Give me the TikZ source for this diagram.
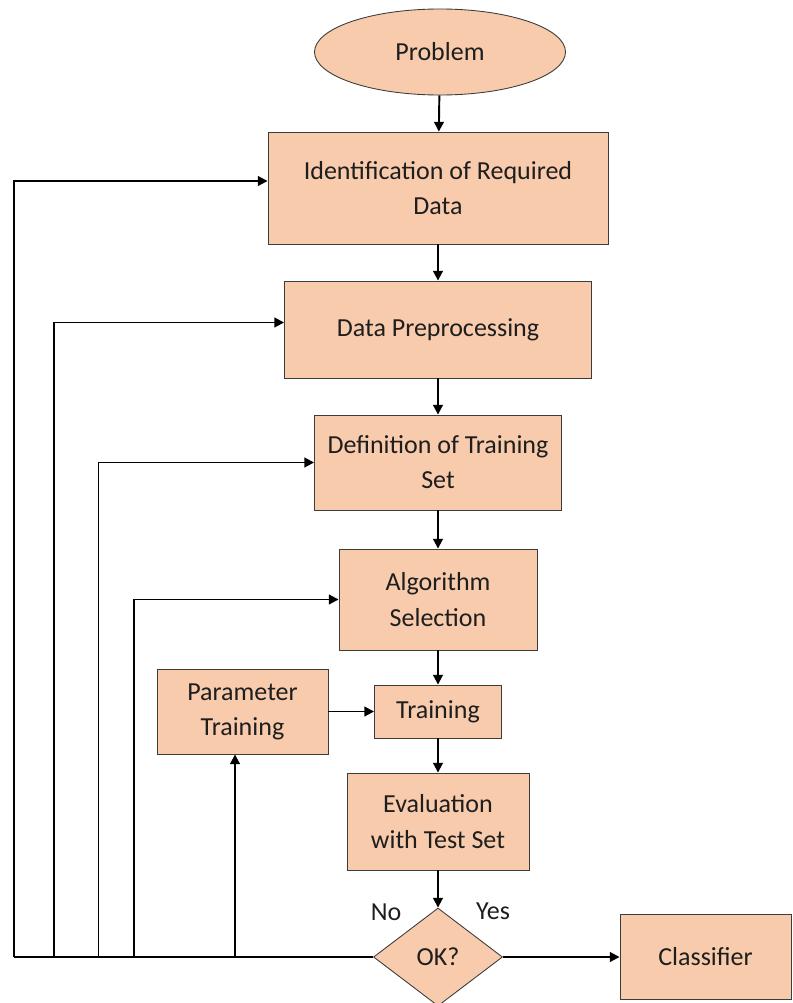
\documentclass[tikz,border=0pt]{standalone}
\usepackage{fontspec}
\setmainfont{Carlito}
\usepackage{tikz}
\usetikzlibrary{shapes.geometric,arrows.meta}
\definecolor{peach}{RGB}{248,203,173}
\definecolor{edgeg}{RGB}{60,60,60}
\definecolor{inkt}{RGB}{30,30,30}
\tikzset{
  pbox/.style={draw=edgeg,fill=peach,line width=0.5pt,align=center,inner sep=0pt,text=inkt},
  term/.style={ellipse,draw=edgeg,fill=peach,line width=0.5pt,inner sep=0pt,text=inkt},
  dec/.style={diamond,draw=edgeg,fill=peach,line width=0.5pt,inner sep=0pt,text=inkt},
  lbl/.style={text=inkt},
  ea/.style={-{Triangle[length=5.5pt,width=5.5pt]},line width=1.1pt,draw=black},
  efb/.style={line width=1.1pt,draw=black},
}
\begin{document}
\begin{tikzpicture}[every node/.style={font=\fontsize{14.8}{20}\selectfont}]
\useasboundingbox (0,0) rectangle (15.84,-20.06);
\node[term,minimum width=5.02cm,minimum height=1.72cm] (prob) at (8.80,-1.04) {Problem};
\node[pbox,minimum width=6.80cm,minimum height=2.24cm] (ident) at (8.76,-3.76) {Identification of Required\\Data};
\node[pbox,minimum width=6.14cm,minimum height=1.94cm] (prep) at (8.76,-6.59) {Data Preprocessing};
\node[pbox,minimum width=4.94cm,minimum height=1.90cm] (defn) at (8.76,-9.25) {Definition of Training\\Set};
\node[pbox,minimum width=3.96cm,minimum height=2.02cm] (algo) at (8.76,-11.99) {Algorithm\\Selection};
\node[pbox,minimum width=2.54cm,minimum height=1.06cm] (train) at (8.76,-14.23) {Training};
\node[pbox,minimum width=3.42cm,minimum height=1.70cm] (param) at (4.85,-14.23) {Parameter\\Training};
\node[pbox,minimum width=3.64cm,minimum height=1.94cm] (eval) at (8.76,-16.43) {Evaluation\\with Test Set};
\node[dec,minimum width=2.58cm,minimum height=1.96cm] (ok) at (8.76,-19.14) {OK?};
\node[pbox,minimum width=3.42cm,minimum height=1.70cm] (cls) at (14.11,-19.14) {Classifier};
\node[lbl] (no) at (7.72,-18.24) {No};
\node[lbl] (yes) at (9.86,-18.22) {Yes};
% feedback corners
\coordinate (b1) at (0.28,-19.14);
\coordinate (b2) at (1.08,-19.14);
\coordinate (b3) at (1.97,-19.14);
\coordinate (b4) at (2.68,-19.14);
\coordinate (b5) at (4.70,-19.14);
% main chain
\draw[ea] (prob) -- (ident);
\draw[ea] (ident) -- (prep);
\draw[ea] (prep) -- (defn);
\draw[ea] (defn) -- (algo);
\draw[ea] (algo) -- (train);
\draw[ea] (train) -- (eval);
\draw[ea] (eval) -- (ok);
\draw[ea] (param) -- (train);
\draw[ea] (ok) -- (cls);
% loops back
\draw[efb] (ok.west) -- (b1);
\draw[ea] (b1) |- ([yshift=0.14cm]ident.west);
\draw[ea] (b2) |- ([yshift=0.14cm]prep.west);
\draw[ea] (b3) |- (defn.west);
\draw[ea] (b4) |- (algo.west);
\draw[ea] (b5) -- (b5 |- param.south);
\end{tikzpicture}
\end{document}
